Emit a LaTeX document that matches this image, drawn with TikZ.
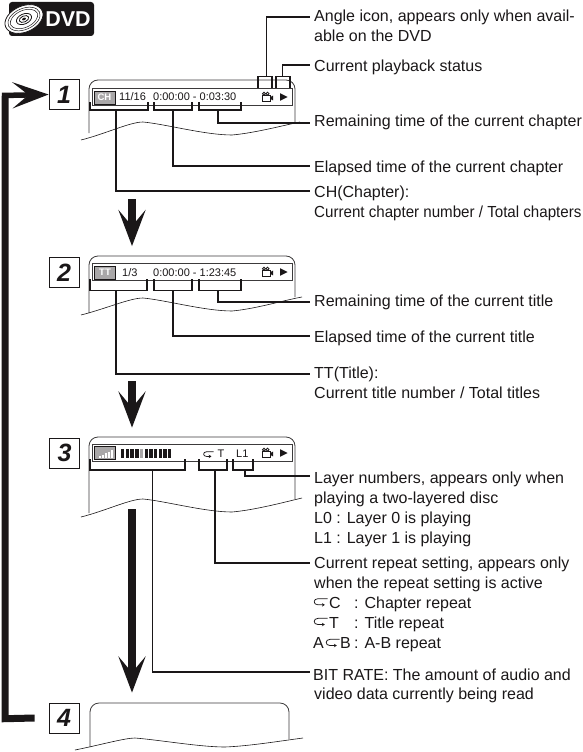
\documentclass[tikz,border=0pt]{standalone}
\usepackage{fontspec}
\usepackage{graphicx}
\setmainfont{Liberation Sans}
\usetikzlibrary{arrows.meta,calc}
\definecolor{ink}{HTML}{1A1718}
\definecolor{badge}{HTML}{A9A7A8}
\tikzset{
  x=1pt,y=-1pt,
  numbox/.style={draw=ink,line width=0.8pt,fill=white,minimum width=30pt,minimum height=30pt,inner sep=0pt,font=\fontsize{25}{25}\selectfont\bfseries\itshape,text=ink},
  lbl/.style={anchor=base west,yshift=-0.8pt,inner xsep=4pt,inner ysep=0pt,text height=10pt,text depth=3pt,font=\fontsize{16}{18}\selectfont,text=ink},
  lead/.style={draw=ink,line width=1.7pt},
  brk/.style={draw=ink,line width=1.9pt,line join=miter},
  screen/.style={draw=ink!85,line width=0.8pt,rounded corners=9pt},
  wave/.style={draw=ink,line width=0.6pt},
  bar/.style={draw=ink!85,line width=0.8pt,fill=white},
  badgebox/.style={draw=ink,line width=0.5pt,fill=badge,inner sep=0pt,minimum width=21pt,minimum height=13pt,font=\fontsize{9.5}{9.5}\selectfont\bfseries,text=white},
  osd/.style={inner sep=0pt,anchor=base west,font=\fontsize{11}{12}\selectfont,text=ink},
  flow/.style={draw=ink,line width=7.5pt,-{Stealth[length=36pt,width=27pt,inset=16pt]}},
  cyc/.style={draw=ink,line width=7pt,line join=miter},
  loopicon/.pic={\draw[ink,line width=0.75pt,-{Stealth[length=2.8pt,width=3.4pt]}] (10,-4.2) -- (3,-4.2) .. controls (-0.8,-4.2) and (-0.8,0.4) .. (3,0.4) -- (8,0.4);},
  camicon/.pic={
    \draw[ink,line width=0.8pt,fill=white] (0,-3) rectangle (8,3);
    \draw[ink,line width=0.8pt,fill=white] (2,-4.3) circle[radius=1.5];
    \draw[ink,line width=0.8pt,fill=white] (5.6,-4.3) circle[radius=1.5];
    \fill[ink] (8.4,-1) -- (11,-2.4) -- (11,2.4) -- (8.4,1) -- cycle;},
  playicon/.pic={\fill[ink] (0,-3.8) -- (7.5,0) -- (0,3.8) -- cycle;}
}
\begin{document}
\begin{tikzpicture}
\useasboundingbox (0,0) rectangle (583,752);
% logo
\fill[ink,rounded corners=3pt] (9,2) rectangle (94,36);
\begin{scope}[shift={(24,19)},rotate=24]
 \draw[ink,line width=0.8pt,fill=white] (0,0) ellipse[x radius=20,y radius=13];
 \draw[ink,line width=0.5pt] (0,0) ellipse[x radius=17,y radius=10.5];
 \draw[ink,line width=0.5pt] (0,0) ellipse[x radius=14.5,y radius=8.5];
 \draw[ink,line width=0.8pt] (0,0) ellipse[x radius=8,y radius=5];
 \draw[ink,line width=0.8pt] (0,0) ellipse[x radius=5,y radius=3];
 \fill[ink] (0,0) ellipse[x radius=2,y radius=1.2];
\end{scope}
\node (dvd) at (68,19.5) [inner sep=0pt,text=white,font=\fontsize{21.5}{22}\selectfont\bfseries] {DVD};

% number boxes
\node[numbox] (n1) at (64,94.5) {1};
\node[numbox] (n2) at (64,272.5) {2};
\node[numbox] (n3) at (64.5,453) {3};
\node[numbox] (n4) at (64,718) {4};

% screen 1
\draw[screen] (89,133) -- (89,80) -- (295,80) -- (295,123);
\draw[wave] (81,140) .. controls (105,134) and (130,122) .. (143,122) .. controls (165,124) and (205,135) .. (232,135) .. controls (255,133) and (285,125) .. (300,122);
\draw[bar] (92,88) rectangle (292,105);
\node[badgebox] (b1) at (104.5,97.5) {CH};
\node[osd] (t11) at (119,100.5) {11/16};
\node[osd] (t12) at (153,100.5) {0:00:00 - 0:03:30};
\pic at (262,98) {camicon};
\pic at (280,97) {playicon};

% screen 2
\draw[screen] (89,313) -- (89,256) -- (295,256) -- (295,297);
\draw[wave] (81,315) .. controls (105,309) and (130,298) .. (143,298) .. controls (165,300) and (205,311) .. (232,311) .. controls (255,309) and (285,300) .. (302,297);
\draw[bar] (92,263) rectangle (292,280.5);
\node[badgebox] (b2) at (105,272.5) {TT};
\node[osd] (t21) at (122,276) {1/3};
\node[osd] (t22) at (153,276) {0:00:00 - 1:23:45};
\pic at (262,273) {camicon};
\pic at (280,272) {playicon};

% screen 3
\draw[screen] (89,513) -- (89,437) -- (295,437) -- (295,499);
\draw[wave] (81,517) .. controls (105,511) and (130,499) .. (143,499) .. controls (165,501) and (205,512) .. (232,512) .. controls (255,510) and (285,502) .. (302,498);
\draw[bar] (92,444) rectangle (292,461);
\node[badgebox] (b3) at (105,453) {};
\foreach \i/\h in {0/2,1/3.5,2/5,3/6.5,4/8}{
  \fill[white] ({98.5+\i*3},{458}) rectangle ({100.5+\i*3},{458-\h});
}
\foreach \i in {0,...,10}{
  \ifnum\i=4 \fill[badge] ({121+\i*4.7},449) rectangle ({124.4+\i*4.7},457.5);
  \else \fill[ink] ({121+\i*4.7},449) rectangle ({124.4+\i*4.7},457.5);\fi
}
\pic at (203.5,456) {loopicon};
\node[osd] (t31) at (217.5,457) {T};
\node[osd] (t32) at (236,457) {L1};
\pic at (262,454) {camicon};
\pic at (280,453) {playicon};

% screen 4
\draw[screen] (90,747) -- (90,703) -- (289,703) -- (289,739);
\draw[wave] (75,750) .. controls (100,745) and (125,738) .. (135,738) .. controls (160,740) and (200,747) .. (225,747) .. controls (250,746) and (280,741) .. (303,738);

% labels
\node[lbl] (la) at (310,20.5) {Angle icon, appears only when avail-};
\node[lbl] (la2) at (310,40.5) {able on the DVD};
\node[lbl] (lb) at (310,70.5) {Current playback status};
\node[lbl] (lc) at (310,125.5) {Remaining time of the current chapter};
\node[lbl] (ld) at (310,171.5) {Elapsed time of the current chapter};
\node[lbl] (le) at (310,196.5) {CH(Chapter):};
\node[lbl] (le2) at (310,216.5) {\scalebox{0.945}[1]{Current chapter number / Total chapters}};
\node[lbl] (lf) at (310,306) {Remaining time of the current title};
\node[lbl] (lg) at (310,342) {Elapsed time of the current title};
\node[lbl] (lh) at (310,378) {TT(Title):};
\node[lbl] (lh2) at (310,398) {Current title number / Total titles};
\node[lbl] (li) at (310,483) {Layer numbers, appears only when};
\node[lbl] (li2) at (310,503) {playing a two-layered disc};
\node[lbl] (li3) at (310,523) {L0 : Layer 0 is playing};
\node[lbl] (li4) at (310,542.5) {L1 : Layer 1 is playing};
\node[lbl] (lj) at (310,568) {Current repeat setting, appears only};
\node[lbl] (lj2) at (310,588) {when the repeat setting is active};
\node[lbl] (lj3) at (350,608) {: Chapter repeat};
\node[lbl] (lj4) at (350,627.5) {: Title repeat};
\node[lbl] (lj5) at (350,647.5) {: A-B repeat};
\node[lbl] (lj3c) at (325,608) {C};
\node[lbl] (lj4c) at (325,627.5) {T};
\node[lbl] (lj5a) at (309,647.5) {A};
\node[lbl] (lj5b) at (336,647.5) {B};
\pic[scale=1.35] at (314,604.3) {loopicon};
\pic[scale=1.35] at (314,624) {loopicon};
\pic[scale=1.35] at (326,645) {loopicon};
\node[lbl,inner xsep=3pt] (lk) at (310,679.5) {BIT RATE: The amount of audio and};
\node[lbl] (lk2) at (310,699) {video data currently being read};

% connector ends beside the labels
\coordinate (ea) at (309.5,17);
\coordinate (eb) at (309.5,65);
\coordinate (ec) at (309.5,123.3);
\coordinate (ed) at (309.5,166);
\coordinate (ee) at (309.5,191);
\coordinate (ef) at (309.5,302.3);
\coordinate (eg) at (309.5,336.3);
\coordinate (eh) at (309.5,374.3);
\coordinate (ei) at (309.5,476.3);
\coordinate (ej) at (309.5,562.7);
\coordinate (ek) at (309.5,671.7);

% brackets: top
\coordinate (ta) at (266.5,76.5);
\coordinate (tb) at (282.5,76.5);
\draw[brk] (258,88) -- (258,76.5) -- (272,76.5) -- (272,88);
\draw[brk] (276,88) -- (276,76.5) -- (290,76.5) -- (290,88);
\draw[lead] (ta) |- (ea);
\draw[lead] (tb) |- (eb);
% brackets row 1
\coordinate (c1) at (116,110); \coordinate (c2) at (173,110); \coordinate (c3) at (218,110);
\draw[brk] (90,102) -- (90,110) -- (148,110) -- (148,102);
\draw[brk] (154,102) -- (154,110) -- (192,110) -- (192,102);
\draw[brk] (199,102) -- (199,110) -- (241,110) -- (241,102);
\draw[lead] (c3) |- (ec);
\draw[lead] (c2) |- (ed);
\draw[lead] (c1) |- (ee);
% row 2
\coordinate (d1) at (116,290.5); \coordinate (d2) at (173,290.5); \coordinate (d3) at (218,290.5);
\draw[brk] (90,279) -- (90,290.5) -- (147,290.5) -- (147,279);
\draw[brk] (154,279) -- (154,290.5) -- (192,290.5) -- (192,279);
\draw[brk] (199,279) -- (199,290.5) -- (241,290.5) -- (241,279);
\draw[lead] (d3) |- (ef);
\draw[lead] (d2) |- (eg);
\draw[lead] (d1) |- (eh);
% row 3
\coordinate (e1) at (152.5,470); \coordinate (e2) at (215,470); \coordinate (e3) at (245,470);
\draw[brk] (90,459) -- (90,470) -- (185,470) -- (185,459);
\draw[brk] (199,459) -- (199,470) -- (227,470) -- (227,459);
\draw[brk] (233,459) -- (233,470) -- (253,470) -- (253,459);
\draw[lead] (e3) |- (ei);
\draw[lead] (e2) |- (ej);
\draw[lead] (e1) |- (ek);

% flow arrows
\coordinate (f1) at (132,199); \coordinate (f2) at (132,381); \coordinate (f3) at (132,509);
\draw[flow] (f1) -- ($(n2.north -| f1)+(0,-11)$);
\draw[flow] (f2) -- ($(n3.north -| f2)+(0,-10)$);
\draw[flow] (f3) -- ($(n4.north -| f3)+(0,-10)$);
% cycle arrow
\draw[cyc] (n4.west) ++(-14,0) -- (5,718.7) -- (5,95.5);
\draw[draw=ink,line width=5.5pt,-{Stealth[length=36pt,width=26pt,inset=16pt]}] (2,95.5) -- (n1.west);
\end{tikzpicture}
\end{document}
